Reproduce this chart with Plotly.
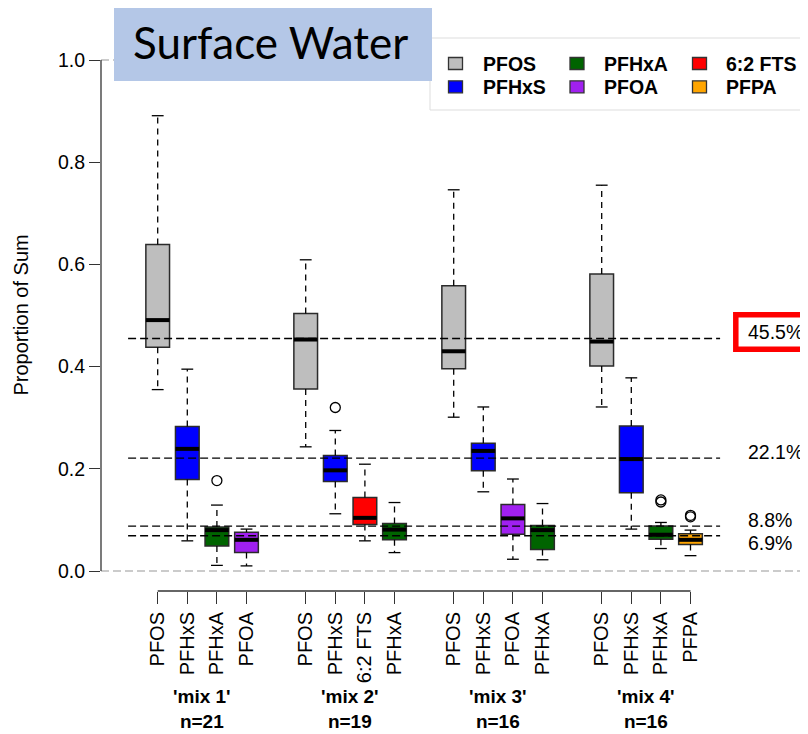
import plotly.graph_objects as go

# ---------------- data ----------------
mix_names = ["'mix 1'", "'mix 2'", "'mix 3'", "'mix 4'"]
mix_n = [21, 19, 16, 16]
mix_compounds = [
    ["PFOS", "PFHxS", "PFHxA", "PFOA"],
    ["PFOS", "PFHxS", "6:2 FTS", "PFHxA"],
    ["PFOS", "PFHxS", "PFOA", "PFHxA"],
    ["PFOS", "PFHxS", "PFHxA", "PFPA"],
]
whisker_low = [[0.355, 0.059, 0.011, 0.010],
               [0.243, 0.112, 0.059, 0.036],
               [0.301, 0.155, 0.023, 0.022],
               [0.321, 0.082, 0.044, 0.030]]
quart1 = [[0.438, 0.179, 0.049, 0.036],
          [0.356, 0.175, 0.091, 0.061],
          [0.396, 0.196, 0.072, 0.042],
          [0.401, 0.153, 0.062, 0.052]]
medians = [[0.491, 0.239, 0.080, 0.061],
           [0.453, 0.197, 0.104, 0.081],
           [0.430, 0.235, 0.103, 0.080],
           [0.449, 0.219, 0.071, 0.061]]
quart3 = [[0.639, 0.283, 0.086, 0.076],
          [0.504, 0.226, 0.144, 0.093],
          [0.558, 0.250, 0.130, 0.089],
          [0.581, 0.284, 0.088, 0.073]]
whisker_high = [[0.891, 0.395, 0.129, 0.082],
                [0.609, 0.275, 0.209, 0.134],
                [0.746, 0.321, 0.180, 0.132],
                [0.755, 0.378, 0.095, 0.080]]
outliers = [[[], [], [0.177], []],
            [[], [0.320], [], []],
            [[], [], [], []],
            [[], [], [0.135, 0.139], [0.106, 0.109]]]

ref_values = [0.455, 0.221, 0.088, 0.069]
ref_labels = ["45.5%", "22.1%", "8.8%", "6.9%"]

y_ticks = [0.0, 0.2, 0.4, 0.6, 0.8, 1.0]

compound_colors = {
    "PFOS": "#BEBEBE", "PFHxS": "#0000FF", "PFHxA": "#006400",
    "PFOA": "#A020F0", "6:2 FTS": "#FF0000", "PFPA": "#FFA500",
}
legend_columns = [["PFOS", "PFHxS"], ["PFHxA", "PFOA"], ["6:2 FTS", "PFPA"]]

# ---------------- layout geometry (screen pixels; page has an 8px body margin) ----------------
OFF = 8
SCREEN_W, SCREEN_H = 808, 734
W, H = SCREEN_W - OFF, SCREEN_H - OFF
PL, PR, PT, PB = 101, 808, 20, 591
UNIT, X1PX = 29.6, 157.7
Y0PX, YSCALE = 571, 511.0
FONT = "Liberation Sans, Arial, sans-serif"


def px_x(px):
    return (px - PL) / (PR - PL)


def px_y(py):
    return (PB - py) / (PB - PT)


xrange_ = [1 + (PL - X1PX) / UNIT, 1 + (PR - X1PX) / UNIT]
yrange_ = [(Y0PX - PB) / YSCALE, (Y0PX - PT) / YSCALE]

BOXW = 0.8
STAPLE = 0.4

fig = go.Figure()

positions, tick_names = [], []
per_comp = {}
med_x, med_y = [], []
wh_x, wh_y = [], []
st_x, st_y = [], []
out_x, out_y = [], []

for g, comps in enumerate(mix_compounds):
    for i, c in enumerate(comps):
        p = 1 + 5 * g + i
        positions.append(p)
        tick_names.append(c)
        d = per_comp.setdefault(c, {"x": [], "q1": [], "med": [], "q3": []})
        d["x"].append(p)
        d["q1"].append(quart1[g][i])
        d["med"].append(medians[g][i])
        d["q3"].append(quart3[g][i])
        med_x += [p - BOXW / 2, p + BOXW / 2, None]
        med_y += [medians[g][i], medians[g][i], None]
        wh_x += [p, p, None, p, p, None]
        wh_y += [quart3[g][i], whisker_high[g][i], None,
                 quart1[g][i], whisker_low[g][i], None]
        for v in (whisker_high[g][i], whisker_low[g][i]):
            st_x += [p - STAPLE / 2, p + STAPLE / 2, None]
            st_y += [v, v, None]
        for v in outliers[g][i]:
            out_x.append(p)
            out_y.append(v)

# whiskers (dashed) first, boxes on top
fig.add_trace(go.Scatter(x=wh_x, y=wh_y, mode="lines",
                         line=dict(color="black", width=1.3, dash="6px,5px"),
                         hoverinfo="skip", showlegend=False))
fig.add_trace(go.Scatter(x=st_x, y=st_y, mode="lines",
                         line=dict(color="black", width=1.3),
                         hoverinfo="skip", showlegend=False))

for c, d in per_comp.items():
    fig.add_trace(go.Box(
        x=d["x"], q1=d["q1"], median=d["med"], q3=d["q3"],
        lowerfence=d["q1"], upperfence=d["q3"],
        width=BOXW, whiskerwidth=0, boxpoints=False,
        fillcolor=compound_colors[c],
        line=dict(color="#2b2b2b", width=1.5),
        name=c, showlegend=False,
    ))

fig.add_trace(go.Scatter(x=med_x, y=med_y, mode="lines",
                         line=dict(color="black", width=4),
                         hoverinfo="skip", showlegend=False))
fig.add_trace(go.Scatter(x=out_x, y=out_y, mode="markers",
                         marker=dict(symbol="circle-open", size=10,
                                     color="black", line=dict(width=1.3)),
                         hoverinfo="skip", showlegend=False))

# reference lines
rx, ry = [], []
for v in ref_values:
    rx += [0, 20, None]
    ry += [v, v, None]
fig.add_trace(go.Scatter(x=rx, y=ry, mode="lines",
                         line=dict(color="black", width=1.3, dash="8px,4px"),
                         hoverinfo="skip", showlegend=False))

shapes = []
annotations = []

# gray dashed lines at 0 and 1
for v in (0.0, 1.0):
    shapes.append(dict(type="line", xref="paper", yref="y", x0=0, x1=1, y0=v, y1=v,
                       line=dict(color="#BBBBBB", width=1.3, dash="8px,4px"),
                       layer="below"))
# axis lines
shapes.append(dict(type="line", xref="paper", yref="y", x0=0, x1=0, y0=0, y1=1,
                   line=dict(color="#333333", width=1.3)))
shapes.append(dict(type="line", xref="x", yref="paper", x0=positions[0], x1=positions[-1],
                   y0=0, y1=0, line=dict(color="#333333", width=1.3)))

# legend box
shapes.append(dict(type="rect", xref="paper", yref="paper",
                   x0=px_x(430), x1=px_x(803), y0=px_y(110), y1=px_y(38),
                   fillcolor="white", line=dict(color="#DDDDDD", width=1), layer="above"))
col_sq_x = [455.5, 577, 699.5]
col_tx_x = [480.5, 601.5, 724]
row_y = [63.5, 86.8]
for ci, col in enumerate(legend_columns):
    for ri, name in enumerate(col):
        cx, cy = col_sq_x[ci], row_y[ri]
        shapes.append(dict(type="rect", xref="paper", yref="paper",
                           x0=px_x(cx - 7), x1=px_x(cx + 7),
                           y0=px_y(cy + 6), y1=px_y(cy - 6),
                           fillcolor=compound_colors[name],
                           line=dict(color="#333333", width=1.3), layer="above"))
        annotations.append(dict(xref="paper", yref="paper", x=px_x(col_tx_x[ci]),
                                y=px_y(cy), xanchor="left", yanchor="middle",
                                text="<b>%s</b>" % name, showarrow=False,
                                font=dict(family=FONT, size=19.5, color="black")))

# title box
shapes.append(dict(type="rect", xref="paper", yref="paper",
                   x0=px_x(114), x1=px_x(432), y0=px_y(81), y1=px_y(3),
                   fillcolor="#B4C7E7", line=dict(width=0), layer="above"))
annotations.append(dict(xref="paper", yref="paper", x=px_x(270), y=px_y(42),
                        xanchor="center", yanchor="middle", text="Surface Water",
                        showarrow=False, font=dict(family="Lato, Noto Sans", size=44,
                                                   color="black")))

# red highlight box around first label
shapes.append(dict(type="rect", xref="paper", yref="paper",
                   x0=px_x(735.8), x1=px_x(812), y0=px_y(349.3), y1=px_y(314.7),
                   line=dict(color="#FF0000", width=5.5), fillcolor="rgba(0,0,0,0)",
                   layer="above"))

# right-side percentage labels
label_offsets = [0.0125, 0.0125, 0.0118, -0.0142]
for v, lab, off in zip(ref_values, ref_labels, label_offsets):
    annotations.append(dict(xref="x", yref="y", x=20.88, y=v + off, xanchor="left",
                            yanchor="middle", text=lab, showarrow=False,
                            font=dict(family=FONT, size=19.5, color="black")))

# mix group labels
for g, (nm, n) in enumerate(zip(mix_names, mix_n)):
    cx = sum(1 + 5 * g + i for i in range(len(mix_compounds[g]))) / len(mix_compounds[g])
    annotations.append(dict(xref="x", yref="paper", x=cx, y=px_y(709),
                            xanchor="center", yanchor="middle",
                            text="<b>%s<br>n=%d</b>" % (nm, n), showarrow=False,
                            font=dict(family=FONT, size=19, color="black")))

# y-axis title
annotations.append(dict(xref="paper", yref="y", x=px_x(20), y=0.5, xanchor="center",
                        yanchor="middle", text="Proportion of Sum", textangle=-90,
                        showarrow=False, font=dict(family=FONT, size=20, color="black")))

fig.update_layout(
    width=W, height=H,
    margin=dict(l=PL - OFF, r=SCREEN_W - PR, t=PT - OFF, b=SCREEN_H - PB, autoexpand=False),
    plot_bgcolor="white", paper_bgcolor="white",
    boxmode="overlay", showlegend=False,
    shapes=shapes, annotations=annotations,
    xaxis=dict(range=xrange_, tickvals=positions, ticktext=tick_names, tickangle=-90,
               ticks="outside", ticklen=12, tickwidth=1.3, tickcolor="#333333",
               showline=False, showgrid=False, zeroline=False,
               tickfont=dict(family=FONT, size=20, color="black")),
    yaxis=dict(range=yrange_, tickvals=y_ticks, ticktext=["%.1f" % t for t in y_ticks],
               ticks="outside", ticklen=11, tickwidth=1.3, tickcolor="#333333",
               showline=False, showgrid=False, zeroline=False,
               tickfont=dict(family=FONT, size=19.5, color="black")),
)

fig.write_html("out.html")
